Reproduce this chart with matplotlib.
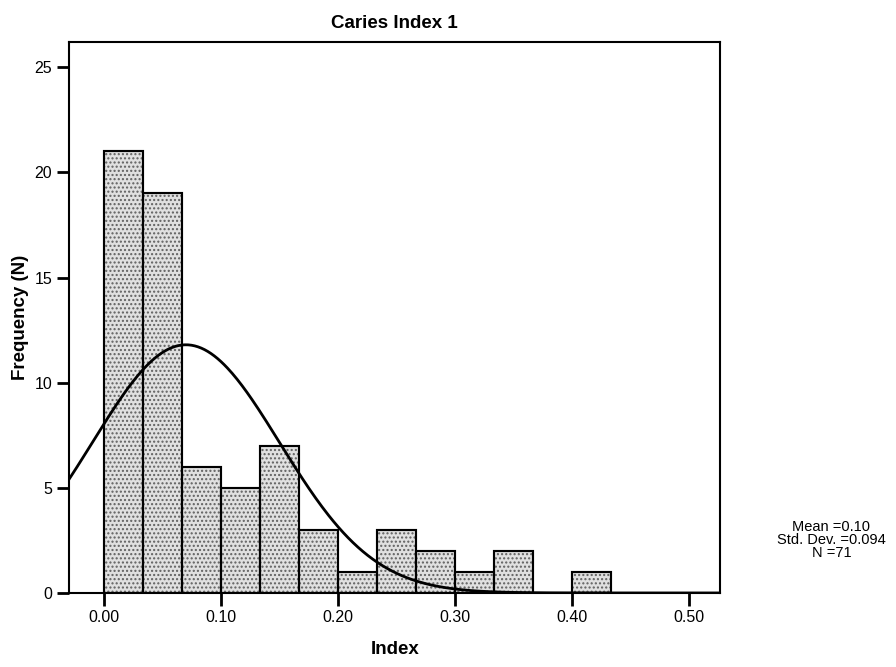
import numpy as np
import matplotlib
matplotlib.use('Agg')
import matplotlib.pyplot as plt

plt.rcParams['font.family'] = ['Liberation Sans', 'DejaVu Sans']
plt.rcParams['hatch.linewidth'] = 1.0

# histogram bins (width 1/30) and counts
bin_width = 1 / 30
bin_left = np.arange(13) * bin_width
counts = [21, 19, 6, 5, 7, 3, 1, 3, 2, 1, 2, 0, 1]

# normal curve as drawn on the chart
curve_mean = 0.07
curve_sd = 0.08
n_total = 71

x_ticks = [0.0, 0.1, 0.2, 0.3, 0.4, 0.5]
y_ticks = [0, 5, 10, 15, 20, 25]
stats_text = "Mean =0.10\nStd. Dev. =0.094\nN =71"

fig = plt.figure(figsize=(8.96, 6.67), dpi=100)
ax = fig.add_axes([0.077, 0.111, 0.727, 0.826])

for left, c in zip(bin_left, counts):
    if c == 0:
        continue
    ax.bar(left, c, width=bin_width, align='edge', facecolor='#e0e0e0',
           edgecolor='#606060', hatch='....', linewidth=1.5, zorder=2)
# redraw outlines in black over the hatch
ax.bar(bin_left, counts, width=bin_width, align='edge', facecolor='none',
       edgecolor='black', linewidth=1.5, zorder=3)

xs = np.linspace(-0.03, 0.527, 400)
ys = n_total * bin_width / (curve_sd * np.sqrt(2 * np.pi)) * np.exp(-0.5 * ((xs - curve_mean) / curve_sd) ** 2)
ax.plot(xs, ys, color='black', linewidth=2, zorder=4)

ax.set_xlim(-0.03, 0.527)
ax.set_ylim(0, 26.2)
ax.set_xticks(x_ticks)
ax.set_xticklabels(['%.2f' % v for v in x_ticks])
ax.set_yticks(y_ticks)
ax.tick_params(direction='out', length=9, width=2, labelsize=11.5, pad=3)
for s in ax.spines.values():
    s.set_linewidth(1.5)

ax.set_title('Caries Index 1', fontsize=13.5, fontweight='bold', pad=10)
ax.set_xlabel('Index', fontsize=13.5, fontweight='bold', labelpad=12)
ax.set_ylabel('Frequency (N)', fontsize=13.5, fontweight='bold', labelpad=4)

fig.text(0.928, 0.19, stats_text, ha='center', va='center', fontsize=10.5,
         linespacing=0.92)

fig.savefig('out.png', dpi=100)
